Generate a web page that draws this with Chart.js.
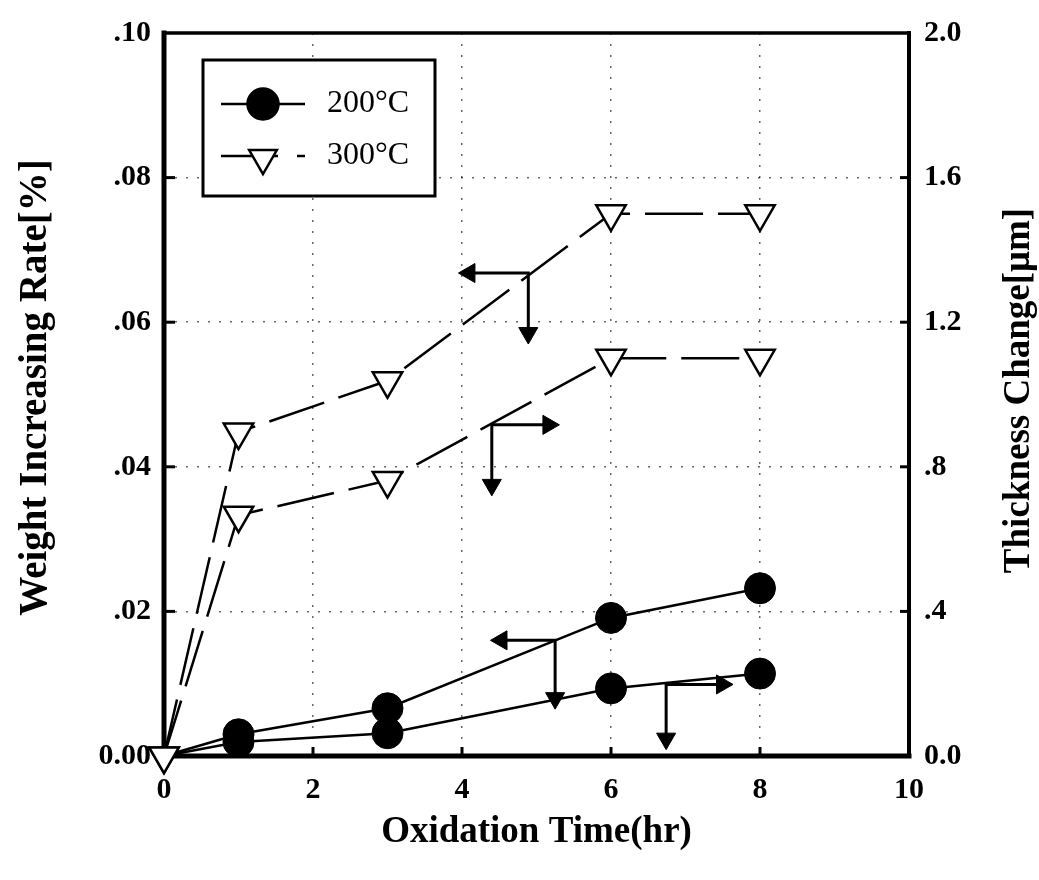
<!DOCTYPE html>
<html><head><meta charset="utf-8">
<script src="https://cdn.jsdelivr.net/npm/chart.js@4.4.0/dist/chart.umd.min.js"></script>
<style>html,body{margin:0;padding:0;background:#fff}#wrap{width:1039px;height:880px;position:relative}</style>
</head><body><div id="wrap"><canvas id="c"></canvas></div>
<script>
// ---- data ----
const hours = [0, 1, 3, 6, 8];
const weight200 = [0, 0.0030, 0.0066, 0.0191, 0.0232];   // left axis, %
const thick200  = [0, 0.039, 0.063, 0.187, 0.228];       // right axis, um
const weight300 = [0, 0.0448, 0.0519, 0.0750, 0.0750];   // left axis, %
const thick300  = [0, 0.666, 0.762, 1.100, 1.100];       // right axis, um
const seriesLabels = ['200°C', '300°C'];
const xTickLabels = ['0', '2', '4', '6', '8', '10'];
const leftTickLabels = ['0.00', '.02', '.04', '.06', '.08', '.10'];
const rightTickLabels = ['0.0', '.4', '.8', '1.2', '1.6', '2.0'];
const xTitle = 'Oxidation Time(hr)';
const leftTitle = 'Weight Increasing Rate[%]';
const rightTitle = 'Thickness Change[μm]';
// axis-pointer arrows (left-axis units): [horizontal head x, vertex x, vertex y, down head y]
const arrowW300 = [4.10, 4.89, 0.0668, 0.0585];
const arrowT300 = [5.16, 4.40, 0.0458, 0.0375];
const arrowW200 = [4.53, 5.25, 0.0160, 0.0080];
const arrowT200 = [7.49, 6.74, 0.0099, 0.0024];

const FONT = '"Liberation Serif", "DejaVu Serif", serif';
const pts = (ys) => hours.map((h, i) => ({x: h, y: ys[i]}));
const arrowData = (a) => [{x: a[0], y: a[2]}, {x: a[1], y: a[2]}, {x: a[1], y: a[3]}];

function arrowDs(a, dir) {
  return {
    data: arrowData(a), yAxisID: 'y', borderColor: '#000', borderWidth: 3,
    pointStyle: 'triangle', pointRadius: [11, 0, 11], pointRotation: [dir, 0, 180],
    pointBackgroundColor: '#000', pointBorderColor: '#000', pointBorderWidth: 1,
    clip: false
  };
}

const tri = {
  borderColor: '#000', borderWidth: 2.5, borderDash: [58, 15],
  pointStyle: 'triangle', pointRotation: 180, pointRadius: 17,
  pointBackgroundColor: '#fff', pointBorderColor: '#000', pointBorderWidth: 2.5, clip: false
};
const circ = {
  borderColor: '#000', borderWidth: 2.5,
  pointStyle: 'circle', pointRadius: (c) => c.dataIndex === 0 ? 0 : 15.5,
  pointBackgroundColor: '#000', pointBorderColor: '#000', pointBorderWidth: 1, clip: false
};

const framePlugin = {
  id: 'frame',
  beforeDatasetsDraw(chart) {
    const {ctx, chartArea: a, scales} = chart;
    ctx.save();
    ctx.strokeStyle = '#000';
    ctx.lineCap = 'square';
    const seg = (x1, y1, x2, y2, w) => { ctx.lineWidth = w; ctx.beginPath(); ctx.moveTo(x1, y1); ctx.lineTo(x2, y2); ctx.stroke(); };
    seg(a.left, a.top, a.right, a.top, 3.5);
    seg(a.right, a.top, a.right, a.bottom, 4);
    seg(a.left, a.top, a.left, a.bottom, 5);
    seg(a.left, a.bottom, a.right, a.bottom, 5);
    ctx.lineCap = 'butt';
    scales.y.ticks.forEach(t => {
      if (t.value <= 1e-9 || t.value >= 0.1 - 1e-9) return;
      const p = scales.y.getPixelForValue(t.value); seg(a.left, p, a.left + 11, p, 3);
    });
    scales.yR.ticks.forEach(t => {
      if (t.value <= 1e-9 || t.value >= 2 - 1e-9) return;
      const p = scales.yR.getPixelForValue(t.value); seg(a.right - 9, p, a.right, p, 3);
    });
    scales.x.ticks.forEach(t => {
      if (t.value <= 1e-9 || t.value >= 10 - 1e-9) return;
      const p = scales.x.getPixelForValue(t.value); seg(p, a.bottom, p, a.bottom - 9, 3);
    });
    ctx.restore();
  },
  afterDraw(chart) {
    // both vertical axis titles read bottom-to-top
    const {ctx, chartArea: a} = chart;
    const cy = (a.top + a.bottom) / 2;
    const vtext = (txt, x, y, size) => {
      ctx.save();
      ctx.translate(x, y);
      ctx.rotate(-Math.PI / 2);
      ctx.fillStyle = '#000';
      ctx.font = 'bold ' + size + 'px ' + FONT;
      ctx.textAlign = 'center'; ctx.textBaseline = 'middle';
      ctx.fillText(txt, 0, 0);
      ctx.restore();
    };
    vtext(leftTitle, 36, cy - 7, 39);
    vtext(rightTitle, 1019, cy - 4, 37);
  }
};

const legendPlugin = {
  id: 'boxLegend',
  afterDatasetsDraw(chart) {
    const {ctx, chartArea: a} = chart;
    const bx = a.left + 39, by = a.top + 27, bw = 232, bh = 136;
    ctx.save();
    ctx.fillStyle = '#fff';
    ctx.fillRect(bx, by, bw, bh);
    ctx.strokeStyle = '#000'; ctx.lineWidth = 3;
    ctx.strokeRect(bx, by, bw, bh);
    const rows = [by + 44, by + 96];
    const lx0 = bx + 18, lx1 = bx + 102, mx = bx + 60, tx = bx + 124;
    ctx.lineWidth = 2.5; ctx.setLineDash([]);
    ctx.beginPath(); ctx.moveTo(lx0, rows[0]); ctx.lineTo(lx1, rows[0]); ctx.stroke();
    ctx.fillStyle = '#000';
    Chart.helpers.drawPoint(ctx, {pointStyle: 'circle', radius: 15.5, borderWidth: 1}, mx, rows[0]);
    ctx.setLineDash([57, 19, 10, 200]);
    ctx.beginPath(); ctx.moveTo(lx0, rows[1]); ctx.lineTo(lx1, rows[1]); ctx.stroke();
    ctx.setLineDash([]);
    ctx.fillStyle = '#fff'; ctx.lineWidth = 2.5;
    Chart.helpers.drawPoint(ctx, {pointStyle: 'triangle', radius: 16, rotation: 180, borderWidth: 2.5}, mx, rows[1] + 2);
    ctx.fillStyle = '#000';
    ctx.font = '32px ' + FONT;
    ctx.textBaseline = 'middle'; ctx.textAlign = 'left';
    ctx.fillText(seriesLabels[0], tx, rows[0]);
    ctx.fillText(seriesLabels[1], tx, rows[1]);
    ctx.restore();
  }
};

const gridCol = (max) => (c) => (c.tick && c.tick.value > 1e-9 && c.tick.value < max - 1e-9) ? 'rgba(0,0,0,0.6)' : 'rgba(0,0,0,0)';

new Chart(document.getElementById('c'), {
  type: 'line',
  data: {
    datasets: [
      Object.assign({label: seriesLabels[1] + ' weight', data: pts(weight300), yAxisID: 'y'}, tri),
      Object.assign({label: seriesLabels[1] + ' thickness', data: pts(thick300), yAxisID: 'yR'}, tri),
      Object.assign({label: seriesLabels[0] + ' weight', data: pts(weight200), yAxisID: 'y'}, circ),
      Object.assign({label: seriesLabels[0] + ' thickness', data: pts(thick200), yAxisID: 'yR'}, circ),
      arrowDs(arrowW300, -90),
      arrowDs(arrowT300, 90),
      arrowDs(arrowW200, -90),
      arrowDs(arrowT200, 90)
    ]
  },
  options: {
    responsive: true, maintainAspectRatio: false, animation: false, events: [],
    layout: {padding: {top: 29, left: 0, right: 0, bottom: 0}},
    plugins: {legend: {display: false}, tooltip: {enabled: false}},
    scales: {
      x: {
        type: 'linear', min: 0, max: 10,
        ticks: {stepSize: 2, padding: 16, color: '#000', font: {family: FONT, size: 30, weight: 'bold'},
          callback: (v, i) => xTickLabels[i]},
        grid: {drawTicks: false, color: gridCol(10), lineWidth: 1.5},
        border: {display: false, dash: [2, 9]},
        title: {display: true, text: xTitle, color: '#000',
          font: {family: FONT, size: 37, weight: 'bold', lineHeight: 1}, padding: {top: 0, bottom: 29}},
        afterFit: (s) => { s.height = 124; }
      },
      y: {
        position: 'left', min: 0, max: 0.1,
        ticks: {stepSize: 0.02, padding: 13, color: '#000', font: {family: FONT, size: 30, weight: 'bold'},
          callback: (v, i) => leftTickLabels[i]},
        grid: {drawTicks: false, color: gridCol(0.1), lineWidth: 1.5},
        border: {display: false, dash: [2, 9]},
        title: {display: false},
        afterFit: (s) => { s.width = 164; }
      },
      yR: {
        position: 'right', min: 0, max: 2,
        ticks: {stepSize: 0.4, padding: 15, color: '#000', font: {family: FONT, size: 30, weight: 'bold'},
          callback: (v, i) => rightTickLabels[i]},
        grid: {display: false, drawTicks: false},
        border: {display: false},
        title: {display: false},
        afterFit: (s) => { s.width = 130; }
      }
    }
  },
  plugins: [framePlugin, legendPlugin]
});
</script>
</body></html>
